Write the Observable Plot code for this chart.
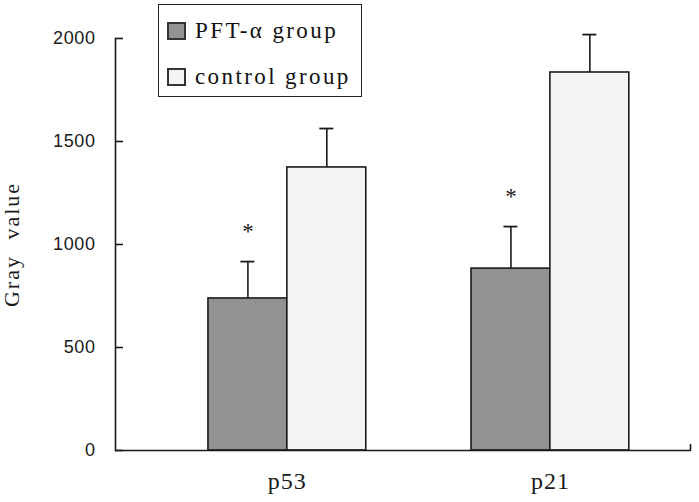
<!DOCTYPE html>
<html>
<head>
<meta charset="utf-8">
<script src="https://cdn.jsdelivr.net/npm/d3@7"></script>
<script src="https://cdn.jsdelivr.net/npm/@observablehq/plot@0.6"></script>
<style>
  body { margin: 0; background: #fff; }
  #wrap { position: relative; width: 699px; height: 502px; background: #fff; }
  #legend {
    position: absolute; left: 158px; top: 4px; width: 204px; height: 93px;
    border: 1.5px solid #222; background: #fff; box-sizing: border-box;
    font-family: "Liberation Serif", serif; font-size: 23px; color: #111;
    letter-spacing: 2.4px;
  }
  .item { position: absolute; left: 8px; display: flex; align-items: center; white-space: nowrap; line-height: 25px; }
  .sw { width: 15px; height: 14px; border: 2px solid #333; margin-right: 9px; }
</style>
</head>
<body>
<div id="wrap"><div id="legend"></div></div>
<script>
const genes = ["p53", "p21"];
const groups = ["PFT-α group", "control group"];
const pftMeans = [738, 883];
const pftErrors = [179, 204];
const controlMeans = [1374, 1835];
const controlErrors = [189, 184];
const yTicks = [0, 500, 1000, 1500, 2000];
const fills = ["#929292", "#f4f4f4"];

const means = [pftMeans, controlMeans];
const errors = [pftErrors, controlErrors];
const rows = groups.map((g, j) => genes.map((gene, i) => ({
  gene, group: g, mean: means[j][i], top: means[j][i] + errors[j][i], sig: j === 0
})));

const W = 699, H = 502, mL = 115, mR = 9, mT = 38, mB = 52;
const xOpts = {type: "band", domain: genes, paddingInner: 0.4, paddingOuter: 0.293, align: 0.603, round: false};
const bw = Plot.scale({x: {...xOpts, range: [mL, W - mR]}}).bandwidth;
const half = bw / 2, capW = 14;
const serif = "Liberation Serif, serif";
const ink = "#1a1a1a";

const marks = [];
groups.forEach((g, j) => {
  const left = j === 0;
  marks.push(Plot.barY(rows[j], {
    x: "gene", y: "mean", fill: "group", stroke: ink, strokeWidth: 1.6,
    insetLeft: left ? 0 : half, insetRight: left ? half : 0
  }));
  marks.push(Plot.ruleX(rows[j], {
    x: "gene", y1: "mean", y2: "top", stroke: ink, strokeWidth: 1.6,
    dx: left ? -half / 2 : half / 2
  }));
  const c = left ? half / 2 : half * 1.5;
  marks.push(Plot.tickY(rows[j], {
    x: "gene", y: "top", stroke: ink, strokeWidth: 1.8,
    insetLeft: c - capW / 2, insetRight: bw - c - capW / 2
  }));
  marks.push(Plot.text(rows[j].filter(d => d.sig), {
    x: "gene", y: "top", text: () => "*", dx: left ? -half / 2 : half / 2, dy: -30,
    fontSize: 23, fontFamily: serif, fill: ink
  }));
});

const tickShape = {draw(context, l) { context.moveTo(0, 0); context.lineTo(0, -l); }};

const chart = Plot.plot({
  width: W, height: H,
  marginLeft: mL, marginRight: mR, marginTop: mT, marginBottom: mB,
  style: {background: "#fff", color: ink},
  x: xOpts,
  y: {domain: [0, 2000]},
  color: {domain: groups, range: fills},
  marks: [
    ...marks,
    Plot.frame({anchor: "left", stroke: ink, strokeWidth: 1.6}),
    Plot.ruleY([0], {stroke: ink, strokeWidth: 1.6}),
    Plot.vector([0], {y: d => d, frameAnchor: "right", length: 6, anchor: "start", shape: tickShape, stroke: ink, strokeWidth: 1.6}),
    Plot.axisY({
      ticks: yTicks, tickFormat: d => String(d), tickSize: -8, tickPadding: 28, strokeWidth: 1.6,
      label: "Gray value", labelAnchor: "center", labelArrow: "none", labelOffset: 112,
      fontSize: 18, fontFamily: "Liberation Sans, sans-serif"
    }),
    Plot.axisX({
      tickSize: 0, tickPadding: 21, label: null,
      fontSize: 24, fontFamily: serif
    })
  ]
});
document.getElementById("wrap").prepend(chart);

chart.querySelectorAll("g[aria-label='y-axis label'] text").forEach(t => {
  t.setAttribute("font-family", serif);
  t.setAttribute("font-size", "22");
  t.style.letterSpacing = "2px";
  t.style.wordSpacing = "8px";
});
chart.querySelectorAll("g[aria-label='y-axis tick label'] text").forEach(t => {
  t.style.letterSpacing = "0.6px";
});
chart.querySelectorAll("g[aria-label='x-axis tick label'] text").forEach(t => {
  t.style.letterSpacing = "1px";
});

const legend = document.getElementById("legend");
groups.forEach((g, j) => {
  const item = document.createElement("div");
  item.className = "item";
  item.style.top = (j === 0 ? 13 : 59) + "px";
  const sw = document.createElement("div");
  sw.className = "sw";
  sw.style.background = fills[j];
  const label = document.createElement("span");
  label.textContent = g;
  item.append(sw, label);
  legend.append(item);
});
</script>
</body>
</html>
